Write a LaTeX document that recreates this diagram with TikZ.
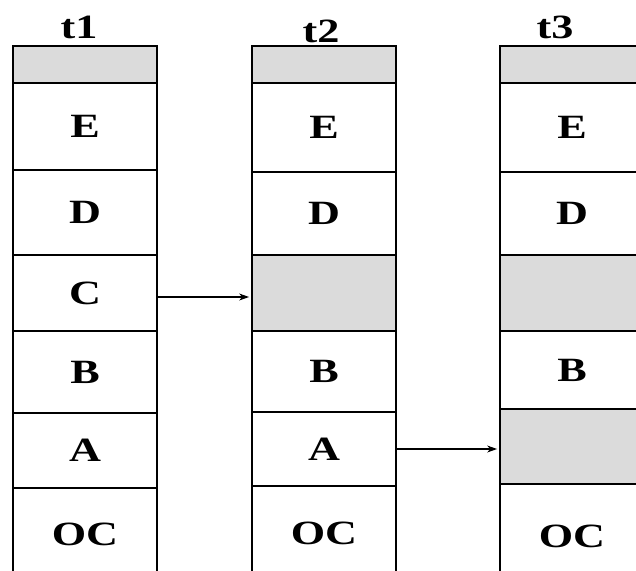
\documentclass[tikz,border=0pt]{standalone}
\usepackage{fontspec}
\setmainfont{Liberation Serif}
\usepackage{graphicx}
\usetikzlibrary{arrows.meta}
\newcommand{\wide}[1]{\scalebox{1.3}[1]{#1}}
\tikzset{
  slot/.style={draw, line width=1.8pt, minimum width=144pt, inner sep=0pt,
    font=\fontsize{34}{38}\selectfont\bfseries},
  used/.style={slot, fill=black!14},
  stamp/.style={font=\fontsize{34}{38}\selectfont\bfseries},
  move/.style={-{Stealth[length=10pt,width=7pt]}, line width=1.2pt}
}
\begin{document}
\begin{tikzpicture}[x=1pt,y=-1pt]
  \useasboundingbox (0,0) rectangle (636,570);
  \clip (0,0) rectangle (636,570);
  % stack at t1
  \foreach \n/\t/\b/\l/\s in {h1/46/83//used, E1/83/170/E/slot, D1/170/255/D/slot,
      C1/255/331/C/slot, B1/331/413/B/slot, A1/413/488/A/slot, O1/488/580/OC/slot}
    \node[\s, minimum height={\b-\t}] (\n) at (85,{(\t+\b)/2}) {\wide{\l}};
  % stack at t2
  \foreach \n/\t/\b/\l/\s in {h2/46/83//used, E2/83/172/E/slot, D2/172/255/D/slot,
      C2/255/331//used, B2/331/412/B/slot, A2/412/486/A/slot, O2/486/580/OC/slot}
    \node[\s, minimum height={\b-\t}] (\n) at (324,{(\t+\b)/2}) {\wide{\l}};
  % stack at t3
  \foreach \n/\t/\b/\l/\s in {h3/46/83//used, E3/83/172/E/slot, D3/172/255/D/slot,
      C3/255/331//used, B3/331/409/B/slot, A3/409/484//used, O3/484/588/OC/slot}
    \node[\s, minimum height={\b-\t}] (\n) at (572,{(\t+\b)/2}) {\wide{\l}};
  \node[stamp] (t1) at (79,27) {\wide{t1}};
  \node[stamp] (t2) at (321,31) {\wide{t2}};
  \node[stamp] (t3) at (555,27) {\wide{t3}};
  \draw[move] ([yshift=-4pt]C1.east) -- ([yshift=-4pt,xshift=-2pt]C2.west);
  \draw[move] (A2.east) -- ([xshift=-2pt]A2.east -| A3.west);
\end{tikzpicture}
\end{document}
